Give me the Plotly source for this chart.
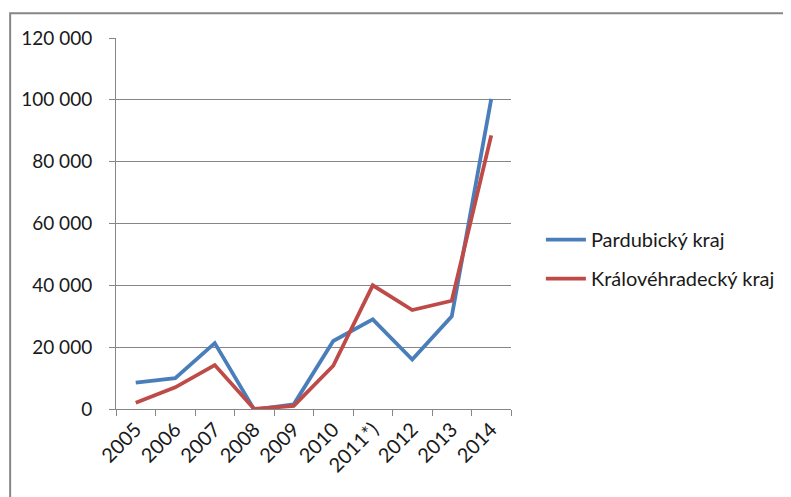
import plotly.graph_objects as go

years = ["2005", "2006", "2007", "2008", "2009", "2010", "2011*)", "2012", "2013", "2014"]
pardubicky = [8500, 10000, 21300, -200, 1500, 22000, 29000, 16000, 30000, 100300]
kralovehradecky = [2000, 7000, 14200, 0, 1000, 14000, 40000, 32000, 35000, 88500]
y_ticks = [0, 20000, 40000, 60000, 80000, 100000, 120000]
y_labels = ["0", "20 000", "40 000", "60 000", "80 000", "100 000", "120 000"]

fig = go.Figure()
fig.add_trace(go.Scatter(x=years, y=pardubicky, mode="lines", name="Pardubický kraj",
                         legendgroup="a", line=dict(color="#4A7EBB", width=3.8)))
fig.add_trace(go.Scatter(x=years, y=kralovehradecky, mode="lines", name="Královéhradecký kraj",
                         legendgroup="b", line=dict(color="#BE4B48", width=3.8)))

font = "Lato, Open Sans, sans-serif"
fig.update_layout(
    width=783, height=489,
    margin=dict(l=108, r=279, t=30, b=88),
    paper_bgcolor="white", plot_bgcolor="white",
    font=dict(family=font, size=20, color="#1a1a1a"),
    showlegend=True,
    legend=dict(x=1.073, y=0.404, xanchor="left", yanchor="middle",
                font=dict(size=20), traceorder="grouped", tracegroupgap=10,
                itemwidth=40, bgcolor="rgba(0,0,0,0)"),
    xaxis=dict(type="category", range=[-0.5, 9.5], automargin=False,
               showgrid=False, showline=True, linecolor="#868686",
               linewidth=1, ticks="outside", tickson="boundaries", ticklen=6,
               tickcolor="#868686", tickangle=-45, tickfont=dict(size=20)),
    yaxis=dict(range=[0, 120000], tickvals=y_ticks, ticktext=y_labels, automargin=False,
               showgrid=True, gridcolor="#868686", gridwidth=1, showline=True,
               linecolor="#868686", linewidth=1, ticks="outside", ticklen=6,
               tickcolor="#868686", zeroline=False, tickfont=dict(size=19),
               ticklabelstandoff=13),
    shapes=[dict(type="rect", xref="paper", yref="paper",
                 x0=-0.268, x1=1.8, y0=-0.4, y1=1.067,
                 line=dict(color="#878787", width=2), fillcolor="rgba(0,0,0,0)")],
)

fig.write_html("out.html")
